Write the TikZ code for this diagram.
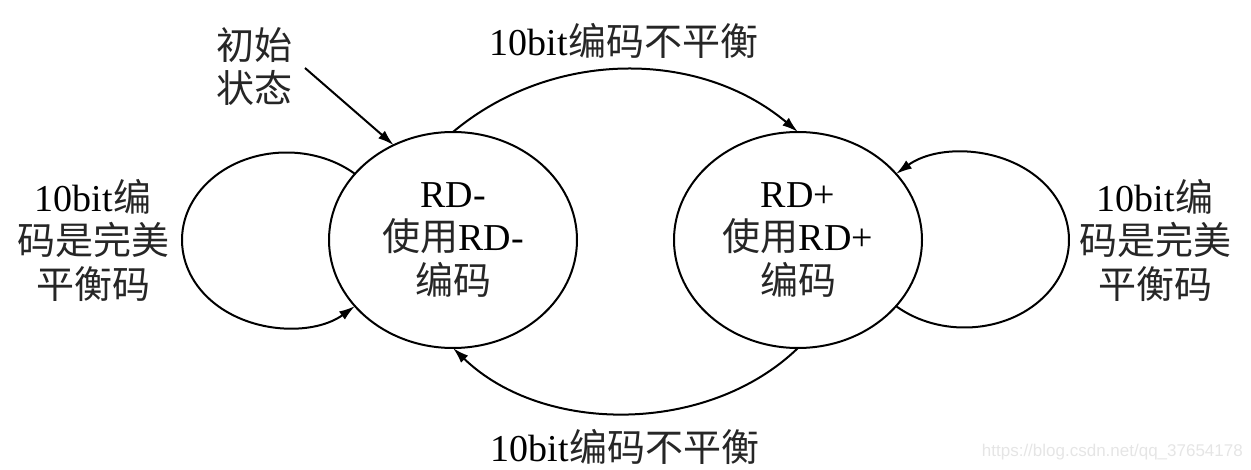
\documentclass[tikz,border=0pt]{standalone}
\usepackage{fontspec}
\setmainfont{Liberation Serif}
\newfontfamily\cjk{Noto Sans CJK SC}
\newfontfamily\wmfont{Liberation Sans}
\usetikzlibrary{shapes.geometric,arrows.meta}
\newcommand{\zh}[1]{{\cjk\color{black!85}#1}}
\begin{document}
\begin{tikzpicture}[x=1pt,y=1pt,
  lbl/.style={font=\fontsize{38}{43.5}\selectfont, align=center, inner sep=0pt, text=black},
  state/.style={ellipse, draw, line width=2pt, minimum width=248pt, minimum height=216pt,
                inner sep=0pt, outer sep=0pt, font=\fontsize{38}{43.5}\selectfont, align=center},
  arr/.style={line width=2pt, -{Latex[length=16pt,width=10pt]}}
]
\useasboundingbox (0,0) rectangle (1251,-470);

\node[state] (L) at (453,-240) {RD-\\\zh{使用}RD-\\\zh{编码}};
\node[state] (R) at (798,-240) {RD+\\\zh{使用}RD+\\\zh{编码}};

\node[lbl] (init) at (254,-66.5) {\zh{初始}\\\zh{状态}};
\coordinate (initstart) at (305,-68);
\draw[arr] (initstart) -- (L.122);

\node[lbl] (toplbl) at (624,-41) {10bit\zh{编码不平衡}};
\node[lbl] (botlbl) at (625,-447) {10bit\zh{编码不平衡}};

\draw[arr] (L.north) .. controls (552,-49) and (699,-49) .. (R.north);
\draw[arr] (R.south) .. controls (708,-435) and (543,-435) .. (L.south);

\node[lbl] (llbl) at (93,-240) {10bit\zh{编}\\\zh{码是完美}\\\zh{平衡码}};
\node[lbl] (rlbl) at (1155,-240) {10bit\zh{编}\\\zh{码是完美}\\\zh{平衡码}};

\draw[arr] (L.146) arc[start angle=49.07, end angle=310.93, x radius=104.5, y radius=87.5];
\draw[arr] (R.-34) arc[start angle=229.07, end angle=490.93, x radius=104.5, y radius=87.5];

\node[font=\wmfont\fontsize{17}{20}\selectfont, text=black!10, anchor=east, inner sep=0pt] (wm) at (1243,-452) {https://blog.csdn.net/qq\_37654178};
\end{tikzpicture}
\end{document}
